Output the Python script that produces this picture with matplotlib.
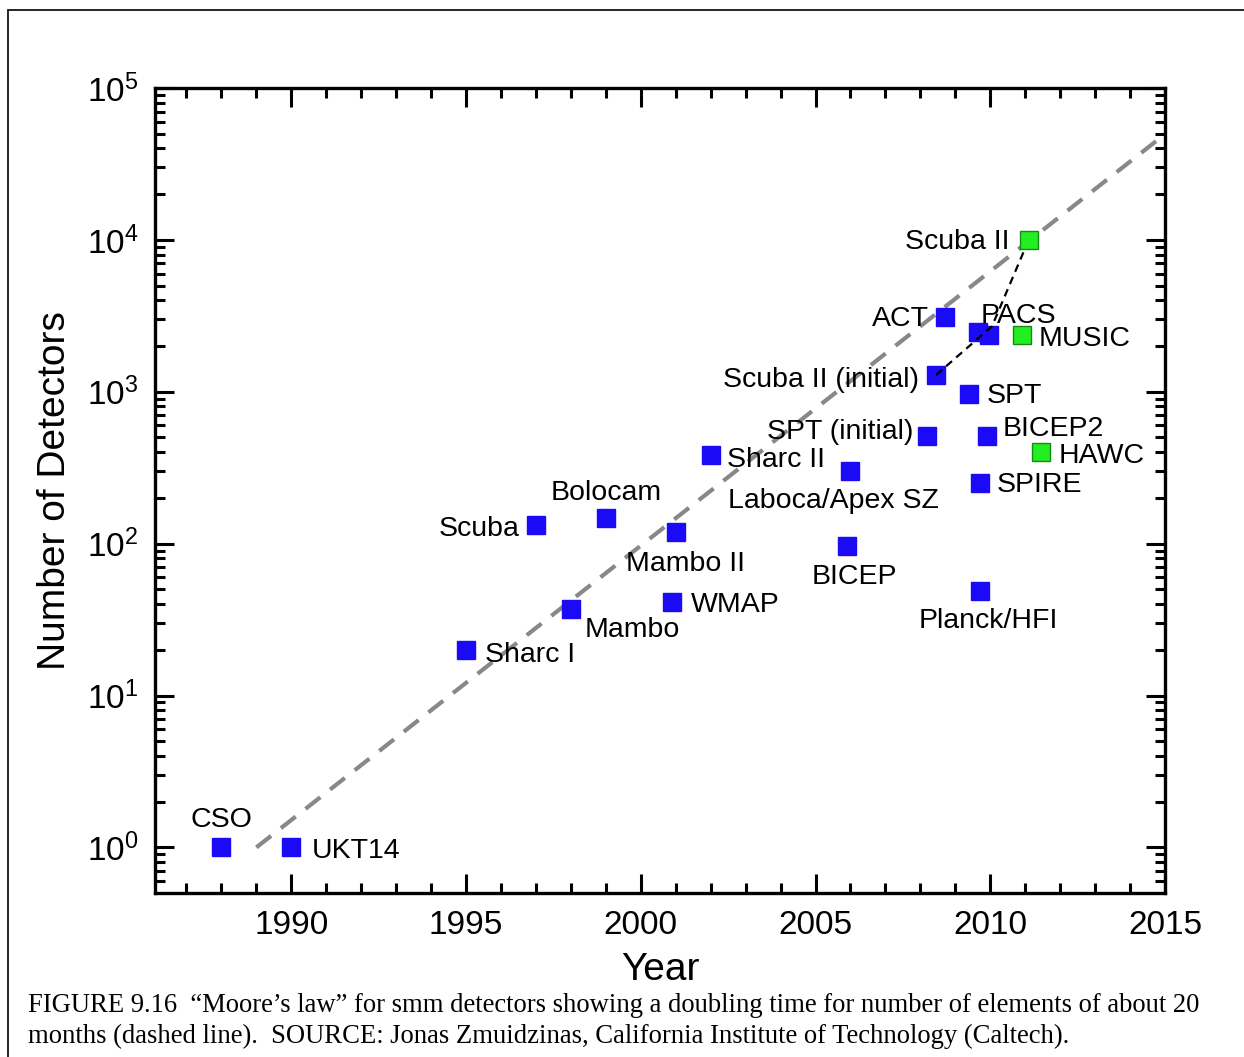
import matplotlib
matplotlib.use("Agg")
import matplotlib.pyplot as plt
import numpy as np
from matplotlib.patches import Rectangle
from matplotlib.ticker import MultipleLocator, LogLocator

plt.rcParams['font.family'] = ['Liberation Sans', 'DejaVu Sans']

# instruments: name, year, number of detectors
names = ['CSO', 'UKT14', 'Sharc I', 'Mambo', 'Scuba', 'Bolocam', 'Mambo II', 'WMAP',
         'Sharc II', 'Laboca/Apex SZ', 'BICEP', 'SPT (initial)', 'Scuba II (initial)',
         'ACT', '', 'PACS', 'SPT', 'BICEP2', 'SPIRE', 'Planck/HFI']
years = [1988.0, 1990.0, 1995.0, 1998.0, 1997.0, 1999.0, 2001.0, 2000.9,
         2002.0, 2006.0, 2005.9, 2008.2, 2008.45,
         2008.7, 2009.65, 2009.95, 2009.4, 2009.9, 2009.7, 2009.7]
counts = [1, 1, 20, 37, 133, 148, 120, 41,
          385, 300, 96, 512, 1290,
          3100, 2480, 2370, 970, 512, 252, 49]

# newer instruments (green)
new_names = ['Scuba II', 'MUSIC', 'HAWC']
new_years = [2011.1, 2010.9, 2011.45]
new_counts = [10000, 2370, 400]

# Scuba II upgrade path
path_years = [2008.45, 2010.05, 2011.1]
path_counts = [1290, 2700, 10000]

# Moore's law: doubling every 20 months starting at 1 detector in 1989
trend_years = np.array([1989.0, 2015.0])
doubling_months = 20

# label offsets in pixels (dx, dy, ha)
offsets = {
    'CSO': (0, 30, 'center'), 'UKT14': (20, -1, 'left'), 'Sharc I': (19, -2, 'left'),
    'Mambo': (14, -18, 'left'), 'Scuba': (-16, -1, 'right'), 'Bolocam': (0, 28, 'center'),
    'Mambo II': (10, -29, 'center'), 'WMAP': (19, 0, 'left'), 'Sharc II': (16, -2, 'left'),
    'Laboca/Apex SZ': (-17, -27, 'center'), 'BICEP': (7, -28, 'center'),
    'SPT (initial)': (-14, 7, 'right'), 'Scuba II (initial)': (-17, -2, 'right'),
    'ACT': (-16, 1, 'right'), 'PACS': (-8, 22, 'left'), 'SPT': (17, 1, 'left'),
    'BICEP2': (16, 10, 'left'), 'SPIRE': (17, 1, 'left'), 'Planck/HFI': (9, -27, 'center'),
    'Scuba II': (-19, 1, 'right'), 'MUSIC': (17, -1, 'left'), 'HAWC': (18, -1, 'left'),
}

fig = plt.figure(figsize=(12.44, 10.57), dpi=100)
ax = fig.add_axes([155 / 1244, 1 - 893 / 1057, 1010 / 1244, 805 / 1057])

trend_counts = 2 ** ((trend_years - trend_years[0]) * 12 / doubling_months)
ax.plot(trend_years, trend_counts, color='#888888', lw=3, dashes=(4.5, 3), zorder=1)
ax.plot(path_years, path_counts, color='black', lw=1.6, dashes=(3.5, 2.5), zorder=3)

ax.plot(years, counts, 's', color='#1a0af5', ms=13, mec='#1a0af5', zorder=2)
ax.plot(new_years, new_counts, 's', color='#22ee22', ms=12.5, mec='#168a16', mew=1, zorder=4)

for n, x, y in zip(names + new_names, years + new_years, counts + new_counts):
    if not n:
        continue
    dx, dy, ha = offsets[n]
    ax.annotate(n, (x, y), xytext=(dx, dy), textcoords='offset pixels',
                ha=ha, va='center_baseline', fontsize=20.5, zorder=5)

ax.set_yscale('log')
ax.set_xlim(1986.1, 2015)
ax.set_ylim(10 ** (-0.3), 1e5)
ax.xaxis.set_major_locator(MultipleLocator(5))
ax.xaxis.set_minor_locator(MultipleLocator(1))
ax.yaxis.set_major_locator(LogLocator(base=10, numticks=10))
ax.yaxis.set_minor_locator(LogLocator(base=10, subs=np.arange(2, 10), numticks=20))

ax.tick_params(which='both', direction='in', top=True, right=True, width=2.2, labelsize=24)
ax.tick_params(which='major', length=14)
ax.tick_params(which='minor', length=7.5)
ax.tick_params(axis='x', pad=12)
ax.tick_params(axis='y', pad=12)
for s in ax.spines.values():
    s.set_linewidth(2.4)

ax.set_xlabel('Year', fontsize=28, labelpad=8)
ax.set_ylabel('Number of Detectors', fontsize=28, labelpad=10)

fig.patches.append(Rectangle((8 / 1244, -0.05), 1.1, 1 - 10 / 1057 + 0.05,
                             transform=fig.transFigure, fill=False, lw=1.2, ec='black'))

caption = ('FIGURE 9.16  \u201cMoore\u2019s law\u201d for smm detectors showing a doubling time for number of elements of about 20\n'
           'months (dashed line).  SOURCE: Jonas Zmuidzinas, California Institute of Technology (Caltech).')
fig.text(28 / 1244, 1 - 1021 / 1057, caption, family='Liberation Serif', fontsize=19.2,
         ha='left', va='center', linespacing=1.3)

fig.savefig('out.png', dpi=100)
